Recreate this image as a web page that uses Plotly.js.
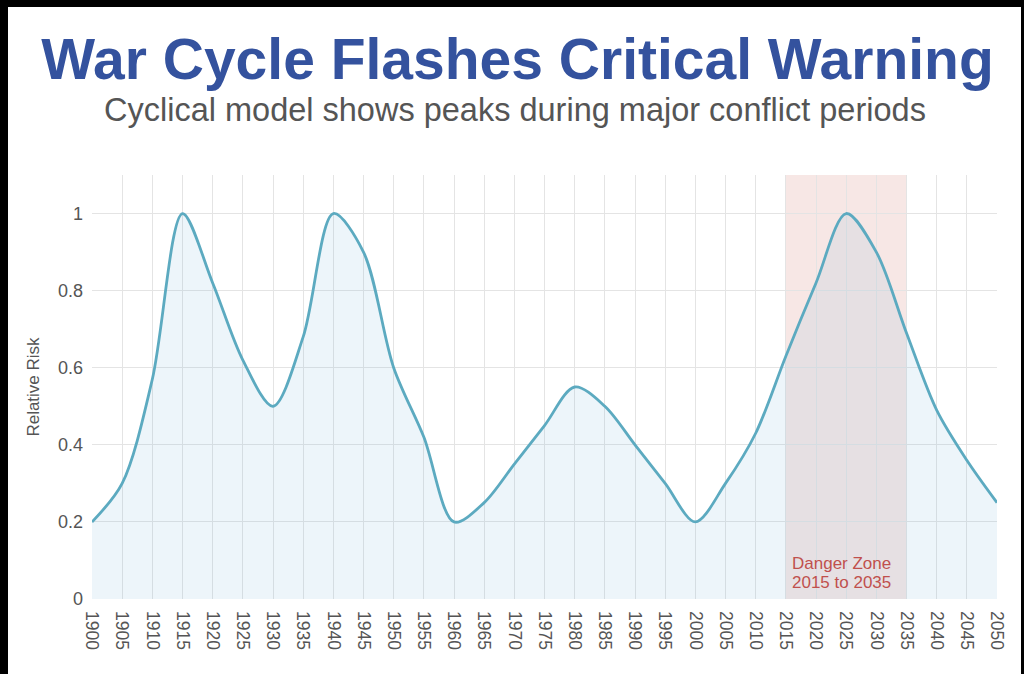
<!DOCTYPE html>
<html>
<head>
<meta charset="utf-8">
<script src="https://cdn.plot.ly/plotly-3.0.1.min.js"></script>
<style>
  html, body { margin: 0; padding: 0; background: #000; }
  #chart { position: absolute; left: 8px; top: 7px; width: 1013px; height: 667px; }
</style>
</head>
<body>
<div id="chart"></div>
<script>
// values, one per 5 years
var years = [1900, 1905, 1910, 1915, 1920, 1925, 1930, 1935, 1940, 1945,
             1950, 1955, 1960, 1965, 1970, 1975, 1980, 1985, 1990, 1995,
             2000, 2005, 2010, 2015, 2020, 2025, 2030, 2035, 2040, 2045, 2050];
var risk = [0.20, 0.30, 0.57, 1.00, 0.82, 0.62, 0.50, 0.68, 1.00, 0.90,
            0.60, 0.42, 0.20, 0.25, 0.35, 0.45, 0.55, 0.50, 0.40, 0.30,
            0.20, 0.30, 0.43, 0.63, 0.82, 1.00, 0.90, 0.69, 0.49, 0.36, 0.25];
var dangerStart = 2015;
var dangerEnd = 2035;
var dangerLines = ["Danger Zone", "2015 to 2035"];

var font = "Liberation Sans, Arial, Helvetica, sans-serif";

var trace = {
    x: years,
    y: risk,
    type: "scatter",
    mode: "lines",
    line: {color: "rgb(92,170,192)", width: 2.8, shape: "spline", smoothing: 0.9},
    fill: "tozeroy",
    fillcolor: "rgba(110,175,210,0.12)",
    hoverinfo: "x+y"
};

var layout = {
    width: 1013,
    height: 667,
    paper_bgcolor: "#fff",
    plot_bgcolor: "#fff",
    showlegend: false,
    margin: {l: 84, r: 24, t: 168, b: 75},
    font: {family: font, color: "#555"},
    title: {
        text: "War Cycle Flashes Critical Warning",
        font: {family: font, size: 57, weight: 700, color: "#34529e"},
        x: 0.503,
        xanchor: "center",
        xref: "container",
        yref: "container",
        y: 0.922,
        yanchor: "middle"
    },
    xaxis: {
        range: [1900, 2050],
        tick0: 1900,
        dtick: 5,
        tickangle: 90,
        tickfont: {size: 17.5, color: "#555"},
        ticklabelstandoff: 11,
        showgrid: true,
        gridcolor: "#e4e4e4",
        gridwidth: 1,
        zeroline: false,
        showline: false,
        ticks: "",
        fixedrange: true
    },
    yaxis: {
        range: [0, 1.1],
        tickvals: [0, 0.2, 0.4, 0.6, 0.8, 1],
        ticktext: ["0", "0.2", "0.4", "0.6", "0.8", "1"],
        tickfont: {size: 18, color: "#555"},
        ticklabelstandoff: 8,
        showgrid: true,
        gridcolor: "#e4e4e4",
        gridwidth: 1,
        zeroline: false,
        title: {text: "Relative Risk", font: {size: 17, color: "#555"}, standoff: 14},
        fixedrange: true
    },
    shapes: [{
        type: "rect",
        xref: "x",
        yref: "paper",
        x0: dangerStart,
        x1: dangerEnd,
        y0: 0,
        y1: 1,
        fillcolor: "rgba(210,120,110,0.18)",
        line: {width: 0},
        layer: "between"
    }],
    annotations: [{
        text: "Cyclical model shows peaks during major conflict periods",
        xref: "paper",
        yref: "paper",
        x: 0.467,
        y: 1.153,
        xanchor: "center",
        yanchor: "middle",
        showarrow: false,
        font: {family: font, size: 32.5, color: "#555"}
    }, {
        text: dangerLines[0],
        xref: "x",
        yref: "y",
        x: dangerStart,
        y: 0.091,
        xanchor: "left",
        yanchor: "middle",
        xshift: 4,
        showarrow: false,
        font: {family: font, size: 17, color: "#c0504d"}
    }, {
        text: dangerLines[1],
        xref: "x",
        yref: "y",
        x: dangerStart,
        y: 0.044,
        xanchor: "left",
        yanchor: "middle",
        xshift: 4,
        showarrow: false,
        font: {family: font, size: 17, color: "#c0504d"}
    }]
};

Plotly.newPlot("chart", [trace], layout, {displayModeBar: false, staticPlot: true});
</script>
</body>
</html>
